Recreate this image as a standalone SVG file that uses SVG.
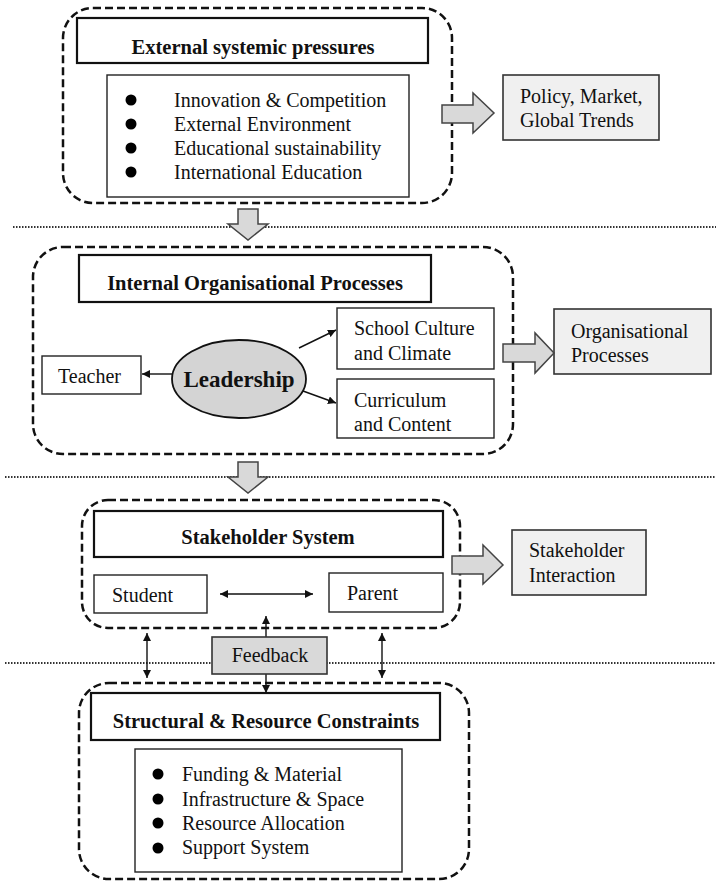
<svg xmlns="http://www.w3.org/2000/svg" width="716" height="883" viewBox="0 0 716 883">
<style>
text{font-family:"Liberation Serif","Times New Roman",serif;fill:#111;}
.t{font-size:20.5px;font-weight:bold;text-anchor:middle;}
.b{font-size:20px;}
.cont{fill:none;stroke:#111;stroke-width:2.5;stroke-dasharray:8 4;}
.tbox{fill:#fff;stroke:#111;stroke-width:2.2;}
.box{fill:#fff;stroke:#222;stroke-width:1.4;}
.gbox{fill:#f0f0f0;stroke:#333;stroke-width:1.6;}
.barrow{fill:#d9d9d9;stroke:#444;stroke-width:1.5;}
.sep{stroke:#333;stroke-width:2;stroke-dasharray:1.5 1.5;}
.con{stroke:#111;stroke-width:1.4;fill:none;}
</style>
<defs>
<marker id="ah" viewBox="0 0 10 10" refX="10" refY="5" markerWidth="8" markerHeight="8" markerUnits="userSpaceOnUse" orient="auto-start-reverse">
<path d="M0,0 L10,5 L0,10 z" fill="#111"/>
</marker>
</defs>

<g id="separators">
<line class="sep" x1="13" y1="227" x2="716" y2="227"/>
<line class="sep" x1="5" y1="477" x2="716" y2="477"/>
<line class="sep" x1="5" y1="663" x2="716" y2="663"/>
</g>

<g id="external">
<rect class="cont" x="63" y="8" width="389" height="195" rx="30"/>
<rect class="tbox" x="77" y="18" width="351" height="45"/>
<text class="t" x="253" y="54">External systemic pressures</text>
<rect class="box" x="107" y="75" width="302" height="122"/>
<circle cx="131" cy="100" r="5.5"/>
<circle cx="131" cy="124" r="5.5"/>
<circle cx="131" cy="148" r="5.5"/>
<circle cx="131" cy="172" r="5.5"/>
<text class="b" x="174" y="107">Innovation &amp; Competition</text>
<text class="b" x="174" y="131">External Environment</text>
<text class="b" x="174" y="155">Educational sustainability</text>
<text class="b" x="174" y="179">International Education</text>
</g>

<g id="policy">
<rect class="gbox" x="503" y="75" width="156" height="65"/>
<text class="b" x="520" y="103">Policy, Market,</text>
<text class="b" x="520" y="127">Global Trends</text>
</g>

<g id="internal">
<rect class="cont" x="33" y="247" width="480" height="207" rx="30"/>
<rect class="tbox" x="79" y="255" width="352" height="47"/>
<text class="t" x="255" y="290">Internal Organisational Processes</text>
</g>

<g id="teacher">
<rect class="box" x="42" y="356" width="99" height="38"/>
<text class="b" x="58" y="383">Teacher</text>
</g>

<g id="leadership">
<ellipse cx="239" cy="379" rx="67" ry="39" fill="#d4d4d4" stroke="#111" stroke-width="1.8"/>
<text x="239" y="387" font-size="23" font-weight="bold" text-anchor="middle">Leadership</text>
</g>

<g id="culture">
<rect class="box" x="337" y="308" width="157" height="61"/>
<text class="b" x="354" y="335">School Culture</text>
<text class="b" x="354" y="360">and Climate</text>
</g>

<g id="curriculum">
<rect class="box" x="337" y="379" width="157" height="59"/>
<text class="b" x="354" y="407">Curriculum</text>
<text class="b" x="354" y="431">and Content</text>
</g>

<g id="orgproc">
<rect class="gbox" x="554" y="309" width="157" height="65"/>
<text class="b" x="571" y="338">Organisational</text>
<text class="b" x="571" y="362">Processes</text>
</g>

<g id="stakeholder">
<rect class="cont" x="82" y="500" width="378" height="128" rx="26"/>
<rect class="tbox" x="94" y="511" width="349" height="46"/>
<text class="t" x="268" y="544">Stakeholder System</text>
</g>

<g id="student">
<rect class="box" x="94" y="575" width="113" height="38"/>
<text class="b" x="112" y="602">Student</text>
</g>

<g id="parent">
<rect class="box" x="329" y="573" width="114" height="39"/>
<text class="b" x="347" y="600">Parent</text>
</g>

<g id="stakeint">
<rect class="gbox" x="512" y="530" width="134" height="65"/>
<text class="b" x="529" y="557">Stakeholder</text>
<text class="b" x="529" y="582">Interaction</text>
</g>

<g id="structural">
<rect class="cont" x="79" y="683" width="390" height="196" rx="30"/>
<rect class="tbox" x="91" y="693" width="349" height="47"/>
<text class="t" x="266" y="728">Structural &amp; Resource Constraints</text>
<rect class="box" x="135" y="749" width="267" height="123"/>
<circle cx="158" cy="774" r="5.5"/>
<circle cx="158" cy="799" r="5.5"/>
<circle cx="158" cy="823" r="5.5"/>
<circle cx="158" cy="848" r="5.5"/>
<text class="b" x="182" y="781">Funding &amp; Material</text>
<text class="b" x="182" y="806">Infrastructure &amp; Space</text>
<text class="b" x="182" y="830">Resource Allocation</text>
<text class="b" x="182" y="854">Support System</text>
</g>

<g id="connectors">
<polygon class="barrow" points="442,105 473,105 473,93 494,113 473,133 473,123 442,123"/>
<polygon class="barrow" points="503,344 535,344 535,333 554,353 535,373 535,362 503,362"/>
<polygon class="barrow" points="452,556 483,556 483,545 503,565 483,584 483,574 452,574"/>
<polygon class="barrow" points="238,209 258,209 258,224 268,224 248,240 228,224 238,224"/>
<polygon class="barrow" points="238,462 258,462 258,477 268,477 248,493 228,477 238,477"/>
<line class="con" x1="172" y1="374" x2="142" y2="374" marker-end="url(#ah)"/>
<line class="con" x1="299" y1="348" x2="336" y2="330" marker-end="url(#ah)"/>
<line class="con" x1="303" y1="391" x2="336" y2="403" marker-end="url(#ah)"/>
<line class="con" x1="220" y1="594" x2="313" y2="594" marker-start="url(#ah)" marker-end="url(#ah)"/>
<line class="con" x1="147" y1="633" x2="147" y2="678" marker-start="url(#ah)" marker-end="url(#ah)"/>
<line class="con" x1="382" y1="633" x2="382" y2="678" marker-start="url(#ah)" marker-end="url(#ah)"/>
<line class="con" x1="266" y1="637" x2="266" y2="616" marker-end="url(#ah)"/>
<line class="con" x1="266" y1="674" x2="266" y2="693" marker-end="url(#ah)"/>
</g>

<g id="feedback">
<rect x="212" y="637" width="115" height="37" fill="#d9d9d9" stroke="#333" stroke-width="1.6"/>
<text class="b" x="270" y="662" text-anchor="middle">Feedback</text>
</g>
</svg>
